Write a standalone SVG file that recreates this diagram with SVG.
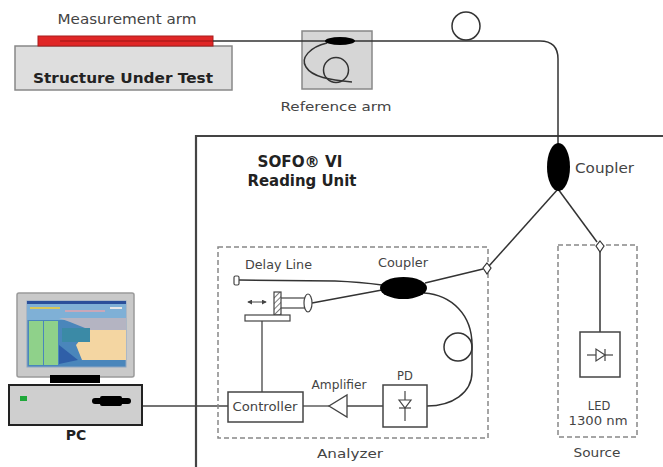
<svg xmlns="http://www.w3.org/2000/svg" width="663" height="467" viewBox="0 0 663 467">
  <style>
    .lbl { font-family: "DejaVu Sans", Verdana, sans-serif; fill: #444; }
    .bold { font-family: "DejaVu Sans", Verdana, sans-serif; font-weight: bold; fill: #222; }
    .fiber { fill: none; stroke: #333; stroke-width: 1.5; }
    .wire { fill: none; stroke: #444; stroke-width: 1.3; }
    .dash { fill: none; stroke: #888; stroke-width: 1.5; stroke-dasharray: 5 3; }
    .box { fill: #fff; stroke: #444; stroke-width: 1.5; }
    .conn { fill: #fff; stroke: #333; stroke-width: 1.2; }
  </style>
  <defs>
    <marker id="ah" viewBox="0 0 6 6" refX="5" refY="3" markerWidth="5" markerHeight="5" orient="auto-start-reverse">
      <path d="M0,0 L6,3 L0,6 z" fill="#444"/>
    </marker>
    <pattern id="hatch" width="4" height="4" patternUnits="userSpaceOnUse" patternTransform="rotate(45)">
      <line x1="0" y1="0" x2="0" y2="4" stroke="#444" stroke-width="1.4"/>
    </pattern>
  </defs>

  <rect width="663" height="467" fill="#fff"/>

  <!-- Structure under test with measurement arm -->
  <g id="structure">
    <rect x="15" y="46" width="217" height="44" fill="#dedede" stroke="#888" stroke-width="1.5"/>
    <text class="bold" x="123" y="83" font-size="14.5" text-anchor="middle" textLength="180" lengthAdjust="spacingAndGlyphs">Structure Under Test</text>
  </g>
  <g id="measurement-arm">
    <rect x="38" y="36" width="175" height="10" fill="#e02626" stroke="#a81c1c" stroke-width="1"/>
    <line x1="60" y1="41" x2="213" y2="41" stroke="#9c1515" stroke-width="1"/>
    <text class="lbl" x="127" y="24" font-size="14" text-anchor="middle" textLength="139" lengthAdjust="spacingAndGlyphs">Measurement arm</text>
  </g>

  <!-- Reference arm -->
  <g id="reference-arm">
    <rect x="302" y="31" width="70" height="58" fill="#d6d6d6" stroke="#888" stroke-width="1.5"/>
    <path class="fiber" d="M327,43 C310,47 300,58 306,67 C312,77 330,80 352,82"/>
    <circle class="fiber" cx="336" cy="70" r="12.5"/>
    <text class="lbl" x="336" y="111" font-size="13" text-anchor="middle" textLength="111" lengthAdjust="spacingAndGlyphs">Reference arm</text>
  </g>

  <!-- Reading unit enclosure -->
  <g id="reading-unit">
    <path d="M196,467 L196,136 L663,136" fill="none" stroke="#444" stroke-width="2.2"/>
    <text class="bold" x="300" y="167" font-size="15" text-anchor="middle" textLength="85" lengthAdjust="spacingAndGlyphs">SOFO® VI</text>
    <text class="bold" x="302" y="186" font-size="15" text-anchor="middle" textLength="109" lengthAdjust="spacingAndGlyphs">Reading Unit</text>
  </g>

  <!-- Fiber connectors -->
  <g id="connectors">
    <path class="fiber" d="M213,41 L540,41 Q558,41 558,59 L558,144"/>
    <circle class="fiber" cx="466" cy="26" r="14"/>
    <line class="fiber" x1="558" y1="189" x2="489" y2="266"/>
    <line class="fiber" x1="558" y1="189" x2="597" y2="242"/>
    <line class="fiber" x1="600" y1="251" x2="600" y2="332"/>
    <path class="fiber" d="M239,280 L335,281 Q360,282 382,285"/>
    <line class="fiber" x1="312" y1="303" x2="382" y2="290"/>
    <line class="fiber" x1="425" y1="283" x2="483" y2="269"/>
    <path class="fiber" d="M424,293 C452,295 472,315 472,345 L472,372 C472,393 452,406 427,406"/>
    <circle class="fiber" cx="458" cy="347" r="14"/>
    <line class="wire" x1="383" y1="406" x2="347" y2="406"/>
    <line class="wire" x1="329" y1="406" x2="303" y2="406"/>
    <line class="wire" x1="228" y1="406" x2="141" y2="406"/>
    <line class="wire" x1="262" y1="321" x2="262" y2="392"/>
  </g>

  <!-- Reference arm coupler, drawn over the fiber -->
  <g id="coupler-reference">
    <ellipse cx="340" cy="41" rx="15" ry="4" fill="#000"/>
  </g>

  <!-- Main coupler -->
  <g id="coupler-main">
    <ellipse cx="558.5" cy="167" rx="11.5" ry="24" fill="#000"/>
    <text class="lbl" x="575" y="173" font-size="14" textLength="59" lengthAdjust="spacingAndGlyphs">Coupler</text>
  </g>

  <!-- Analyzer -->
  <g id="analyzer">
    <rect class="dash" x="218" y="247" width="270" height="191"/>
    <text class="lbl" x="350" y="458" font-size="13" text-anchor="middle" textLength="66" lengthAdjust="spacingAndGlyphs">Analyzer</text>
    <path class="conn" d="M487,263 L491,268 L487,274 L483,268 z"/>
  </g>

  <g id="delay-line">
    <rect x="234" y="276" width="5" height="9" rx="1.5" fill="#fff" stroke="#444" stroke-width="1.2"/>
    <text class="lbl" x="245" y="269" font-size="11.5" textLength="67" lengthAdjust="spacingAndGlyphs">Delay Line</text>
    <rect x="274" y="292" width="7" height="23" fill="url(#hatch)" stroke="#444" stroke-width="1.2"/>
    <line x1="281" y1="298" x2="306" y2="298" stroke="#444" stroke-width="1.2"/>
    <line x1="281" y1="308" x2="306" y2="308" stroke="#444" stroke-width="1.2"/>
    <ellipse cx="308" cy="303" rx="4" ry="9" fill="#fff" stroke="#444" stroke-width="1.2"/>
    <line x1="248" y1="302" x2="266" y2="302" stroke="#444" stroke-width="1" marker-start="url(#ah)" marker-end="url(#ah)"/>
    <rect x="245" y="315" width="45" height="6" fill="#fff" stroke="#444" stroke-width="1.2"/>
  </g>

  <g id="coupler-analyzer">
    <ellipse cx="403.5" cy="288" rx="23.5" ry="11" fill="#000"/>
    <text class="lbl" x="403" y="267" font-size="11.5" text-anchor="middle" textLength="50" lengthAdjust="spacingAndGlyphs">Coupler</text>
  </g>

  <g id="pd">
    <rect class="box" x="383" y="385" width="44" height="42"/>
    <line x1="405" y1="391" x2="405" y2="421" stroke="#444" stroke-width="1.2"/>
    <path d="M399,400 L411,400 L405,408 z" fill="#fff" stroke="#444" stroke-width="1.2"/>
    <line x1="399" y1="408" x2="411" y2="408" stroke="#444" stroke-width="1.2"/>
    <text class="lbl" x="405" y="380" font-size="11.5" text-anchor="middle">PD</text>
  </g>

  <g id="amplifier">
    <path d="M347,395 L347,417 L329,406 z" fill="#fff" stroke="#444" stroke-width="1.3"/>
    <text class="lbl" x="339" y="389" font-size="11.5" text-anchor="middle" textLength="55" lengthAdjust="spacingAndGlyphs">Amplifier</text>
  </g>

  <g id="controller">
    <rect class="box" x="228" y="392" width="75" height="30"/>
    <text class="lbl" x="265" y="411" font-size="11.5" text-anchor="middle" textLength="65" lengthAdjust="spacingAndGlyphs">Controller</text>
  </g>

  <!-- Source -->
  <g id="source">
    <rect class="dash" x="558" y="245" width="79" height="192"/>
    <path class="conn" d="M600,241 L604,246 L600,252 L596,246 z"/>
    <rect class="box" x="580" y="332" width="40" height="45"/>
    <line x1="587" y1="355" x2="613" y2="355" stroke="#444" stroke-width="1.2"/>
    <path d="M596,349 L596,361 L605,355 z" fill="#fff" stroke="#444" stroke-width="1.2"/>
    <line x1="605" y1="349" x2="605" y2="361" stroke="#444" stroke-width="1.2"/>
    <text class="lbl" x="599" y="410" font-size="11.5" text-anchor="middle">LED</text>
    <text class="lbl" x="598" y="425" font-size="11.5" text-anchor="middle" textLength="59" lengthAdjust="spacingAndGlyphs">1300 nm</text>
    <text class="lbl" x="597" y="457" font-size="11.5" text-anchor="middle" textLength="47" lengthAdjust="spacingAndGlyphs">Source</text>
  </g>

  <!-- PC -->
  <g id="pc">
    <rect x="17" y="293" width="117" height="84" rx="2" fill="#c9c9c9" stroke="#9a9a9a" stroke-width="1.5"/>
    <rect x="27" y="301" width="99" height="66" fill="#4a86bb" stroke="#8ea6c2" stroke-width="1"/>
    <rect x="27" y="301" width="99" height="3" fill="#2a4f9a"/>
    <rect x="27" y="304" width="99" height="16" fill="#7fb0d6"/>
    <rect x="30" y="307" width="30" height="2" fill="#d8c85a"/>
    <rect x="65" y="310" width="40" height="2" fill="#c9a7b8"/>
    <rect x="110" y="307" width="12" height="2" fill="#e8e8e8"/>
    <rect x="29" y="321" width="14" height="44" fill="#8fd18a"/>
    <rect x="44" y="321" width="14" height="44" fill="#8fd18a"/>
    <path d="M59,318 L126,318 L126,332 L90,330 L70,322 z" fill="#b4b4c2"/>
    <path d="M88,330 L126,330 L126,360 L82,360 L76,345 z" fill="#f4d6a2"/>
    <rect x="62" y="328" width="28" height="14" fill="#3b8aa6"/>
    <path d="M59,345 L78,360 L59,364 z" fill="#2f5fa8"/>
    <rect x="50" y="375" width="50" height="8" fill="#000"/>
    <rect x="9" y="385" width="133" height="40" fill="#cfcfcf" stroke="#222" stroke-width="2"/>
    <rect x="20" y="396" width="7" height="5" fill="#1fa83a"/>
    <rect x="92" y="398" width="39" height="6" rx="3" fill="#000"/>
    <rect x="100" y="396" width="22" height="10" rx="2" fill="#000"/>
    <text class="bold" x="76" y="440" font-size="14" text-anchor="middle">PC</text>
  </g>
</svg>
